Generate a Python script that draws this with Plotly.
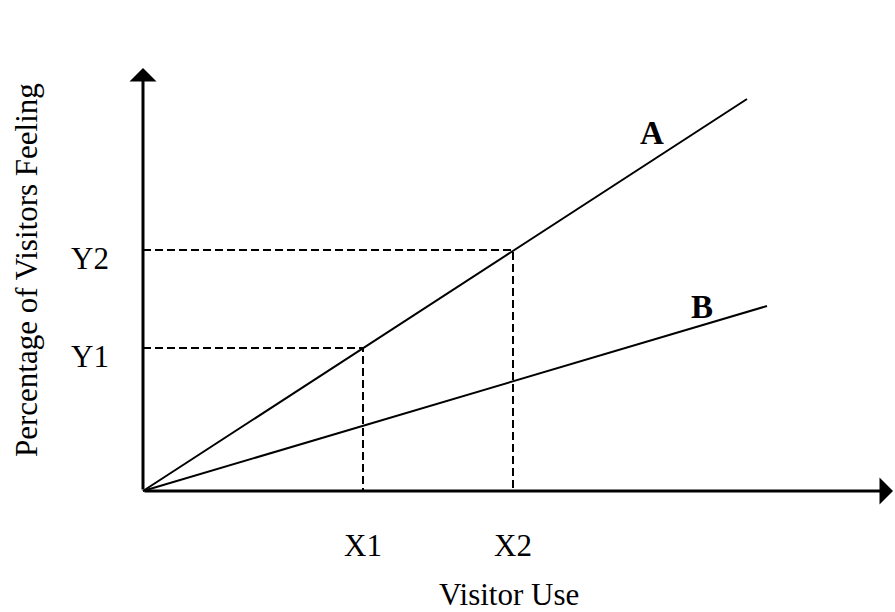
import plotly.graph_objects as go

# ---- data (arbitrary units) ----
x_marks = [2.2, 3.7]
x_mark_labels = ["X1", "X2"]
y_marks = [1.43, 2.41]
y_mark_labels = ["Y1", "Y2"]

line_a_x = [0, 6.04]
line_a_y = [0, 3.92]
line_b_x = [0, 6.24]
line_b_y = [0, 1.85]
line_names = ["A", "B"]
line_label_pos = [(5.085, 3.585), (5.59, 1.845)]

axis_x_end = 7.50
axis_y_end = 4.23

x_title = "Visitor Use"
y_title = "Percentage of Visitors Feeling"

FONT = "Liberation Serif, Times New Roman, serif"

fig = go.Figure()

# main lines A and B
for xs, ys in [(line_a_x, line_a_y), (line_b_x, line_b_y)]:
    fig.add_trace(go.Scatter(x=xs, y=ys, mode="lines",
                             line=dict(color="black", width=2),
                             hoverinfo="skip", showlegend=False))

# dashed guide lines
for xv, yv in zip(x_marks, y_marks):
    fig.add_trace(go.Scatter(x=[0, xv, xv], y=[yv, yv, 0], mode="lines",
                             line=dict(color="black", width=2, dash="8px,4px"),
                             hoverinfo="skip", showlegend=False))

annotations = []
# axes as arrows
annotations.append(dict(x=axis_x_end, y=0, ax=0, ay=0, xref="x", yref="y",
                        axref="x", ayref="y", showarrow=True, arrowhead=1,
                        arrowwidth=3, arrowsize=1.5, arrowcolor="black", text=""))
annotations.append(dict(x=0, y=axis_y_end, ax=0, ay=0, xref="x", yref="y",
                        axref="x", ayref="y", showarrow=True, arrowhead=1,
                        arrowwidth=3, arrowsize=1.5, arrowcolor="black", text=""))

# tick-like labels
for xv, lab in zip(x_marks, x_mark_labels):
    annotations.append(dict(x=xv, y=0, xref="x", yref="y", text=lab,
                            showarrow=False, xanchor="center", yanchor="middle",
                            yshift=-54, font=dict(family=FONT, size=31, color="black")))
for yv, lab in zip(y_marks, y_mark_labels):
    annotations.append(dict(x=0, y=yv, xref="x", yref="y", text=lab,
                            showarrow=False, xanchor="right", yanchor="middle",
                            xshift=-32, yshift=-8, font=dict(family=FONT, size=31, color="black")))

# line names
for name, (lx, ly) in zip(line_names, line_label_pos):
    annotations.append(dict(x=lx, y=ly, xref="x", yref="y", text="<b>" + name + "</b>",
                            showarrow=False, xanchor="center", yanchor="middle",
                            font=dict(family=FONT, size=33, color="black")))

# axis titles
annotations.append(dict(x=3.66, y=-1.03, xref="x", yref="y", text=x_title,
                        showarrow=False, xanchor="center", yanchor="middle",
                        font=dict(family=FONT, size=31, color="black")))
annotations.append(dict(x=-1.17, y=2.21, xref="x", yref="y", text=y_title,
                        showarrow=False, xanchor="center", yanchor="middle", textangle=-90,
                        font=dict(family=FONT, size=31, color="black")))

fig.update_layout(
    width=895, height=612,
    margin=dict(l=0, r=0, t=0, b=0),
    paper_bgcolor="white", plot_bgcolor="white",
    xaxis=dict(range=[-1.43, 7.52], visible=False, fixedrange=True),
    yaxis=dict(range=[-1.21, 4.91], visible=False, fixedrange=True),
    annotations=annotations,
    showlegend=False,
)

fig.write_html("out.html", config={"displayModeBar": False},
               post_script="document.body.style.margin='0';document.body.style.overflow='hidden';")
